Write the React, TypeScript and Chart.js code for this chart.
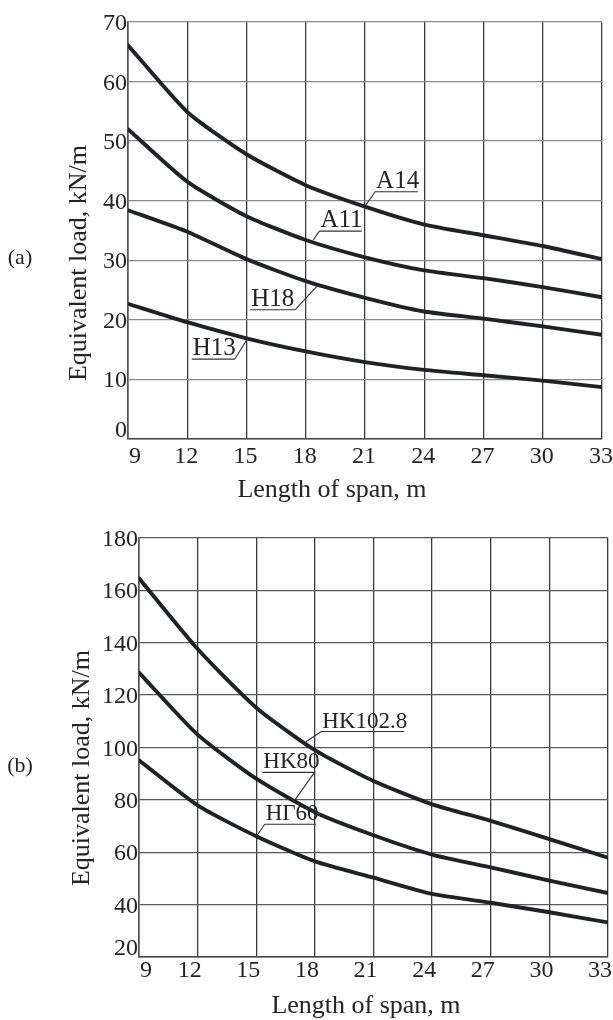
import React, { useEffect, useRef } from "react";
import { Chart, registerables } from "chart.js";

Chart.register(...registerables);

// ---- data ----
const spans = [9, 12, 15, 18, 21, 24, 27, 30, 33];
const xTicks = [9, 12, 15, 18, 21, 24, 27, 30, 33];

const loadA14 = [66.1, 54.9, 47.8, 42.6, 39.0, 36.0, 34.2, 32.4, 30.2];
const loadA11 = [52.0, 43.2, 37.4, 33.4, 30.5, 28.3, 27.0, 25.5, 23.8];
const loadH18 = [38.4, 34.8, 30.2, 26.5, 23.7, 21.4, 20.2, 18.9, 17.5];
const loadH13 = [22.7, 19.6, 16.9, 14.7, 12.9, 11.6, 10.7, 9.8, 8.7];
const yTicksA = [0, 10, 20, 30, 40, 50, 60, 70];

const loadHK1028 = [164.6, 137.6, 115.2, 99.0, 87.2, 78.3, 72.0, 65.0, 57.9];
const loadHK80 = [128.6, 104.9, 88.1, 75.3, 66.5, 59.1, 54.2, 49.2, 44.4];
const loadHG60 = [95.1, 77.9, 66.1, 56.5, 50.3, 44.1, 40.7, 37.1, 33.2];
const yTicksB = [20, 40, 60, 80, 100, 120, 140, 160, 180];

const namesA = ["A14", "A11", "H18", "H13"];
const namesB = ["HK102.8", "HK80", "HГ60"];

const xTitle = "Length of span, m";
const yTitle = "Equivalent load, kN/m";

// ---- layout / style ----
const W = 613;
const H = 1020;
const FONT = '"Liberation Serif", "Times New Roman", "DejaVu Serif", serif';
const TEXT = "#242424";
const CURVE = "#1f2326";

type Ann = { ux0: number; ux1: number; uy: number; lx: number; ly: number; from: "l" | "r" };

const panelA = {
  padding: { left: 128, right: W - 602, top: 22, bottom: H - 439 },
  yMin: 0,
  yMax: 70,
  yTicks: yTicksA,
  series: [loadA14, loadA11, loadH18, loadH13],
  names: namesA,
  ann: [
    { ux0: 21.51, ux1: 23.68, uy: 41.5, lx: 21.05, ly: 39.3, from: "l" },
    { ux0: 18.69, ux1: 20.83, uy: 34.9, lx: 18.38, ly: 33.4, from: "l" },
    { ux0: 15.19, ux1: 17.47, uy: 21.7, lx: 18.56, ly: 25.6, from: "r" },
    { ux0: 12.23, ux1: 14.4, uy: 13.4, lx: 15.1, ly: 17.1, from: "r" },
  ] as Ann[],
  annFont: 25,
  letter: "(a)",
  letterPos: [20, 258],
  yTitlePos: [86, 263],
  xTitlePos: [332, 497],
  xLabelBase: 24,
  xLabelShift: -1,
  xGrid: "#3a3a3a",
  yGrid: "#8a8a8a",
};

const panelB = {
  padding: { left: 139, right: W - 608, top: 538, bottom: H - 957 },
  yMin: 20,
  yMax: 180,
  yTicks: yTicksB,
  series: [loadHK1028, loadHK80, loadHG60],
  names: namesB,
  ann: [
    { ux0: 18.33, ux1: 22.55, uy: 106.1, lx: 17.54, ly: 102.2, from: "l" },
    { ux0: 15.31, ux1: 17.98, uy: 90.5, lx: 16.98, ly: 80.0, from: "r" },
    { ux0: 15.43, ux1: 18.05, uy: 70.7, lx: 15.03, ly: 66.3, from: "l" },
  ] as Ann[],
  annFont: 23,
  letter: "(b)",
  letterPos: [20, 766],
  yTitlePos: [89, 768],
  xTitlePos: [366, 1013],
  xLabelBase: 20,
  xLabelShift: -8,
  xGrid: "#3a3a3a",
  yGrid: "#5a5a5a",
};

type Panel = typeof panelA;

function makeConfig(p: Panel): any {
  const overlay = {
    id: "overlay",
    afterDraw(chart: any) {
      const ctx = chart.ctx as CanvasRenderingContext2D;
      const xs = chart.scales.x;
      const ys = chart.scales.y;
      const area = chart.chartArea;
      ctx.save();
      ctx.fillStyle = TEXT;
      ctx.strokeStyle = "#333";

      // y tick labels
      ctx.font = `24px ${FONT}`;
      ctx.textAlign = "right";
      ctx.textBaseline = "alphabetic";
      p.yTicks.forEach((v, i) => {
        const py = ys.getPixelForValue(v);
        const base = i === 0 ? area.bottom - 2 : py + 8;
        ctx.fillText(String(v), area.left - 1, base);
      });

      // x tick labels
      xTicks.forEach((v, i) => {
        const px = xs.getPixelForValue(v);
        if (i === 0) {
          ctx.textAlign = "left";
          ctx.fillText(String(v), area.left + 1, area.bottom + p.xLabelBase);
        } else {
          ctx.textAlign = "center";
          ctx.fillText(String(v), px + p.xLabelShift, area.bottom + p.xLabelBase);
        }
      });

      // axis titles
      ctx.font = `26px ${FONT}`;
      ctx.textAlign = "center";
      ctx.fillText(xTitle, p.xTitlePos[0], p.xTitlePos[1]);
      ctx.save();
      ctx.translate(p.yTitlePos[0], p.yTitlePos[1]);
      ctx.rotate(-Math.PI / 2);
      ctx.fillText(yTitle, 0, 0);
      ctx.restore();

      // panel letter
      ctx.font = `22px ${FONT}`;
      ctx.textAlign = "center";
      ctx.textBaseline = "middle";
      ctx.fillText(p.letter, p.letterPos[0], p.letterPos[1]);

      // curve labels with underline and leader
      ctx.font = `${p.annFont}px ${FONT}`;
      ctx.textAlign = "left";
      ctx.textBaseline = "alphabetic";
      ctx.lineWidth = 1.1;
      p.ann.forEach((a, i) => {
        const x0 = xs.getPixelForValue(a.ux0);
        const x1 = xs.getPixelForValue(a.ux1);
        const uy = ys.getPixelForValue(a.uy);
        const lx = xs.getPixelForValue(a.lx);
        const ly = ys.getPixelForValue(a.ly);
        ctx.fillText(p.names[i], x0 + 1, uy - 4);
        ctx.beginPath();
        ctx.moveTo(x0, uy);
        ctx.lineTo(x1, uy);
        const sx = a.from === "l" ? x0 : x1;
        ctx.moveTo(sx, uy);
        ctx.lineTo(lx, ly);
        ctx.stroke();
      });
      ctx.restore();
    },
  };

  return {
    type: "line",
    data: {
      datasets: p.series.map((vals, i) => ({
        label: p.names[i],
        data: spans.map((x, j) => ({ x, y: vals[j] })),
        borderColor: CURVE,
        borderWidth: 3.9,
        pointRadius: 0,
        tension: 0.2,
        fill: false,
        borderCapStyle: "round",
        borderJoinStyle: "round",
      })),
    },
    options: {
      animation: false,
      responsive: false,
      maintainAspectRatio: false,
      devicePixelRatio: 1,
      layout: { padding: p.padding },
      plugins: { legend: { display: false }, tooltip: { enabled: false }, title: { display: false } },
      scales: {
        x: {
          type: "linear",
          min: 9,
          max: 33,
          afterBuildTicks: (s: any) => {
            s.ticks = xTicks.map((v) => ({ value: v }));
          },
          afterFit: (s: any) => {
            s.height = 0;
            s.paddingLeft = 0;
            s.paddingRight = 0;
          },
          ticks: { display: false },
          grid: { color: p.xGrid, lineWidth: 1.3, drawTicks: false },
          border: { color: "#444", width: 1.6 },
        },
        y: {
          type: "linear",
          min: p.yMin,
          max: p.yMax,
          afterBuildTicks: (s: any) => {
            s.ticks = p.yTicks.map((v) => ({ value: v }));
          },
          afterFit: (s: any) => {
            s.width = 0;
            s.paddingTop = 0;
            s.paddingBottom = 0;
          },
          ticks: { display: false },
          grid: { color: p.yGrid, lineWidth: 1.3, drawTicks: false },
          border: { color: "#555", width: 1.6 },
        },
      },
    },
    plugins: [overlay],
  };
}

function PanelChart({ panel }: { panel: Panel }) {
  const ref = useRef<HTMLCanvasElement | null>(null);
  useEffect(() => {
    if (!ref.current) return;
    const chart = new Chart(ref.current, makeConfig(panel));
    return () => chart.destroy();
  }, [panel]);
  return (
    <canvas
      ref={ref}
      width={W}
      height={H}
      style={{ position: "absolute", left: 0, top: 0, width: W, height: H, display: "block" }}
    />
  );
}

export default function App() {
  return (
    <div style={{ position: "absolute", left: 0, top: 0, width: W, height: H, background: "#fff", overflow: "hidden" }}>
      <PanelChart panel={panelA} />
      <PanelChart panel={panelB as Panel} />
    </div>
  );
}
